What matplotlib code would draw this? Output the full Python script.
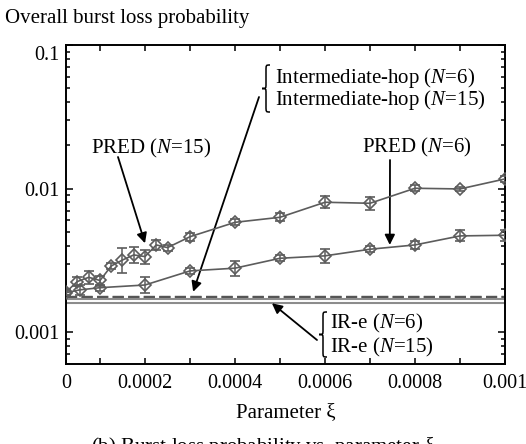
import numpy as np
import matplotlib
matplotlib.use("Agg")
import matplotlib.pyplot as plt
from matplotlib.path import Path
from matplotlib.patches import PathPatch
from matplotlib.transforms import ScaledTranslation

plt.rcParams['font.family'] = ['Liberation Serif', 'DejaVu Serif']
plt.rcParams['mathtext.fontset'] = 'custom'
plt.rcParams['mathtext.rm'] = 'Liberation Serif'
plt.rcParams['mathtext.it'] = 'Liberation Serif:italic'

# ---- data -------------------------------------------------------------
xi_pred15 = [0, 0.000033, 0.000067, 0.0001, 0.000125, 0.00015, 0.000175,
             0.0002, 0.000225, 0.00025, 0.0003, 0.0004, 0.0005, 0.0006,
             0.0007, 0.0008, 0.0009, 0.001]
loss_pred15 = [0.00190, 0.00225, 0.00241, 0.00229, 0.00289, 0.00318, 0.00345,
               0.00336, 0.00405, 0.00388, 0.00462, 0.00582, 0.00631, 0.00803,
               0.00790, 0.01005, 0.00994, 0.01167]
low_pred15 = [0.00181, 0.00208, 0.00216, 0.00211, 0.00275, 0.00257, 0.00305,
              0.00300, 0.00374, 0.00370, 0.00433, 0.00555, 0.00592, 0.00729,
              0.00712, 0.00958, 0.00963, 0.01112]
high_pred15 = [0.00199, 0.00244, 0.00268, 0.00248, 0.00303, 0.00384, 0.00390,
               0.00376, 0.00439, 0.00407, 0.00493, 0.00611, 0.00673, 0.00884,
               0.00877, 0.01055, 0.01026, 0.01225]

xi_pred6 = [0, 0.00004, 0.0001, 0.0002, 0.0003, 0.0004, 0.0005, 0.0006,
            0.0007, 0.0008, 0.0009, 0.001]
loss_pred6 = [0.00188, 0.00197, 0.00204, 0.00213, 0.00267, 0.00279, 0.00327,
              0.00340, 0.00378, 0.00405, 0.00468, 0.00473]
low_pred6 = [0.00182, 0.00182, 0.00194, 0.00188, 0.00254, 0.00247, 0.00312,
             0.00305, 0.00360, 0.00380, 0.00428, 0.00433]
high_pred6 = [0.00194, 0.00213, 0.00214, 0.00241, 0.00280, 0.00315, 0.00343,
              0.00379, 0.00397, 0.00432, 0.00511, 0.00517]

loss_inter6 = 0.00177
loss_inter15 = 0.00175
loss_ire6 = 0.00169
loss_ire15 = 0.00160

x_ticks = [0, 0.0001, 0.0002, 0.0003, 0.0004, 0.0005, 0.0006, 0.0007,
           0.0008, 0.0009, 0.001]
x_tick_labels = ['0', '', '0.0002', '', '0.0004', '', '0.0006', '',
                 '0.0008', '', '0.001']
y_ticks = [0.001, 0.01, 0.1]
y_tick_labels = ['0.001', '0.01', '0.1']

# ---- x scale: first 0.0001 interval drawn narrower ---------------------
K = 34.0 / 45.0
B = 1e-4


def fwd(x):
    x = np.asarray(x, dtype=float)
    return np.where(x < B, x * K, x - B + B * K)


def inv(t):
    t = np.asarray(t, dtype=float)
    return np.where(t < B * K, t / K, t + B - B * K)


W, H = 526, 444
fig = plt.figure(figsize=(W / 100, H / 100), dpi=100)
ax = fig.add_axes([66 / W, 1 - 364 / H, (505 - 66) / W, (364 - 45) / H])
ax.set_xscale('function', functions=(fwd, inv))
ax.set_yscale('log')
ax.set_xlim(0, 0.001)
ax.set_ylim(0.0006, 0.1)

gray = '#5c5c5c'
for xs, ys, lo, hi in [(xi_pred15, loss_pred15, low_pred15, high_pred15),
                       (xi_pred6, loss_pred6, low_pred6, high_pred6)]:
    ys = np.array(ys)
    yerr = [ys - np.array(lo), np.array(hi) - ys]
    ax.errorbar(xs, ys, yerr=yerr, color=gray, lw=1.2, marker='D',
                markersize=6.5, mfc='none', mec=gray, mew=1.2,
                ecolor=gray, elinewidth=1.1, capsize=3.5, capthick=1.1,
                zorder=3)

for v in (loss_inter6, loss_inter15):
    ax.axhline(v, color='#555555', lw=1.6, dashes=(5, 2), zorder=2)
for v in (loss_ire6, loss_ire15):
    ax.axhline(v, color='#8c8c8c', lw=1.5, zorder=2)

ax.set_xticks(x_ticks, x_tick_labels)
ax.set_yticks(y_ticks, y_tick_labels)
ax.yaxis.set_minor_formatter(matplotlib.ticker.NullFormatter())
ax.yaxis.set_minor_locator(matplotlib.ticker.LogLocator(base=10, subs=np.arange(2, 10)))
ax.xaxis.set_minor_locator(matplotlib.ticker.NullLocator())
ax.tick_params(which='both', direction='in', top=True, right=True,
               labelsize=14.5, width=1.1)
ax.tick_params(axis='x', which='major', length=4.5, pad=7)
ax.tick_params(axis='y', which='major', length=5, pad=5)
ax.tick_params(axis='y', which='minor', length=3)
for s in ax.spines.values():
    s.set_linewidth(1.4)

# the top tick label sits a little below the frame corner
top_label = ax.get_yticklabels()[-1]
top_label.set_transform(top_label.get_transform() +
                        ScaledTranslation(0, -8 / 100, fig.dpi_scale_trans))

# ---- labels ------------------------------------------------------------
fs = 15


def ftext(x, y, s, **kw):
    fig.text(x / W, 1 - y / H, s, **kw)


ftext(5, 18, 'Overall burst loss probability', fontsize=fs, va='center')
ftext(285.5, 413, 'Parameter ξ', fontsize=fs, ha='center', va='center')
ftext(263, 434, '(b) Burst loss probability vs. parameter $ξ$',
      fontsize=fs, ha='center', va='top')

ftext(91, 148, 'PRED ($N$=15)', fontsize=fs, va='center')
ftext(362, 147, 'PRED ($N$=6)', fontsize=fs, va='center')
ftext(275, 78, 'Intermediate-hop ($N$=6)', fontsize=fs, va='center')
ftext(275, 100, 'Intermediate-hop ($N$=15)', fontsize=fs, va='center')
ftext(330, 323, 'IR-e ($N$=6)', fontsize=fs, va='center')
ftext(330, 347, 'IR-e ($N$=15)', fontsize=fs, va='center')

# curly braces grouping the two-line labels
ov = fig.add_axes([0, 0, 1, 1])
ov.set_xlim(0, W)
ov.set_ylim(H, 0)
ov.axis('off')


def brace(x0, yt, yb, w=8):
    ym = (yt + yb) / 2
    xm = x0 + w / 2
    h = yb - yt
    verts = [(x0 + w, yt), (xm, yt), (xm, yt), (xm, yt + h * 0.12),
             (xm, ym - h * 0.1),
             (xm, ym), (xm, ym), (x0, ym),
             (xm, ym), (xm, ym), (xm, ym + h * 0.1),
             (xm, yb - h * 0.12),
             (xm, yb), (xm, yb), (x0 + w, yb)]
    codes = [Path.MOVETO, Path.CURVE4, Path.CURVE4, Path.CURVE4,
             Path.LINETO,
             Path.CURVE4, Path.CURVE4, Path.CURVE4,
             Path.CURVE4, Path.CURVE4, Path.CURVE4,
             Path.LINETO,
             Path.CURVE4, Path.CURVE4, Path.CURVE4]
    ov.add_patch(PathPatch(Path(verts, codes), fill=False, lw=1.1, color='k'))


brace(262, 65, 112)
brace(319, 312, 357)

# arrows from labels to curves
arrow = dict(arrowstyle='-|>', color='k', lw=1.3, mutation_scale=15,
             shrinkA=0, shrinkB=0)
for tip, tail in [((0.0002, 0.00416), (118, H - 157)),
                  ((0.000744, 0.00405), (390, H - 160)),
                  ((0.000307, 0.00191), (259, H - 97)),
                  ((0.000482, 0.00159), (317, H - 340))]:
    ax.annotate('', xy=tip, xycoords='data', xytext=tail,
                textcoords='figure pixels', arrowprops=arrow)

fig.savefig('out.png', dpi=100)
